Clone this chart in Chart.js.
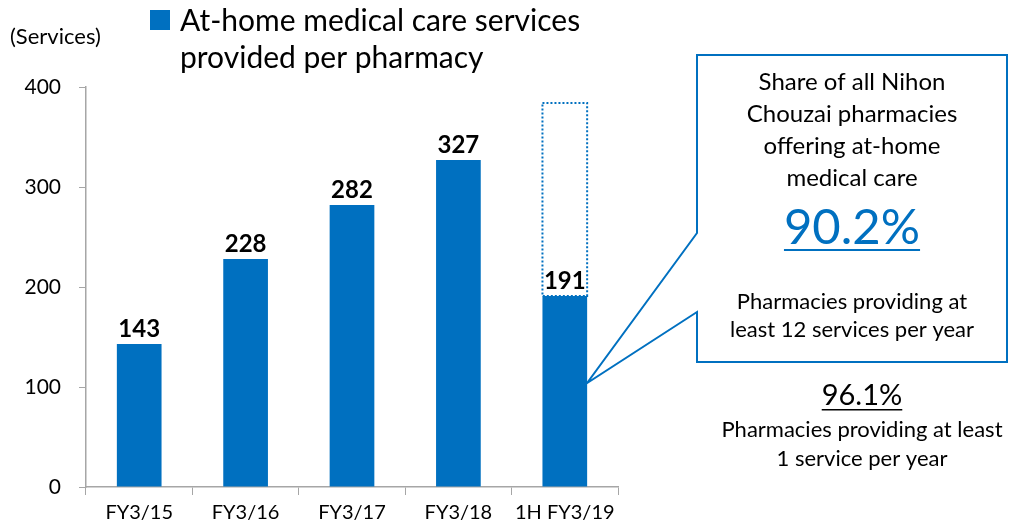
<!DOCTYPE html>
<html>
<head>
<meta charset="utf-8">
<script src="https://cdn.jsdelivr.net/npm/chart.js@4/dist/chart.umd.min.js"></script>
<style>
  html, body { margin: 0; padding: 0; background: #fff; }
  #wrap { width: 1018px; height: 528px; position: relative; }
</style>
</head>
<body>
<div id="wrap"><canvas id="chart" width="1018" height="528"></canvas></div>
<script>
const categories = ['FY3/15', 'FY3/16', 'FY3/17', 'FY3/18', '1H FY3/19'];
const servicesPerPharmacy = [143, 228, 282, 327, 191];
// dotted outline above the half-year bar (full-year outlook)
const outlookRange = [null, null, null, null, [191, 384]];
const yTicks = [0, 100, 200, 300, 400];

const BLUE = '#0070C0';
const AXIS = '#A6A6A6';
const FONT = 'Lato, "Open Sans", sans-serif';

const overlay = {
    id: 'overlay',
    afterDatasetsDraw(chart) {
        const ctx = chart.ctx;
        const bars = chart.getDatasetMeta(0).data;
        const outline = chart.getDatasetMeta(1).data;

        // dotted outline box
        ctx.save();
        outline.forEach((el, i) => {
            if (outlookRange[i] == null) return;
            const p = el.getProps(['x', 'y', 'base', 'width'], true);
            ctx.strokeStyle = BLUE;
            ctx.lineWidth = 2;
            ctx.setLineDash([2, 2]);
            ctx.strokeRect(p.x - p.width / 2, p.y, p.width, p.base - p.y);
        });
        ctx.restore();

        // value labels
        ctx.save();
        ctx.fillStyle = '#000';
        ctx.font = 'bold 24px ' + FONT;
        ctx.textAlign = 'center';
        ctx.textBaseline = 'bottom';
        bars.forEach((el, i) => {
            const p = el.getProps(['x', 'y'], true);
            ctx.fillText(String(servicesPerPharmacy[i]), p.x, p.y - 3);
        });
        ctx.restore();
    },
    afterDraw(chart) {
        const ctx = chart.ctx;
        ctx.save();
        ctx.fillStyle = '#000';

        // unit label
        ctx.font = '22px ' + FONT;
        ctx.textAlign = 'left';
        ctx.textBaseline = 'middle';
        ctx.fillText('(Services)', 10, 37);

        // legend
        ctx.fillStyle = BLUE;
        ctx.fillRect(150, 10, 20, 20);
        ctx.fillStyle = '#000';
        ctx.font = '30px ' + FONT;
        ctx.fillText('At-home medical care services', 180, 21);
        ctx.fillText('provided per pharmacy', 180, 58);

        // callout box with pointer
        const bar = chart.getDatasetMeta(0).data[4].getProps(['x', 'width'], true);
        const tipX = bar.x + bar.width / 2;
        const tipY = chart.scales.y.getPixelForValue(104);
        ctx.strokeStyle = BLUE;
        ctx.lineWidth = 2;
        ctx.beginPath();
        ctx.moveTo(697, 233);
        ctx.lineTo(697, 55);
        ctx.lineTo(1007, 55);
        ctx.lineTo(1007, 362);
        ctx.lineTo(697, 362);
        ctx.lineTo(697, 312);
        ctx.lineTo(tipX, tipY);
        ctx.closePath();
        ctx.fillStyle = '#fff';
        ctx.fill();
        ctx.stroke();

        const cx = 852;
        ctx.fillStyle = '#000';
        ctx.textAlign = 'center';
        ctx.font = '24px ' + FONT;
        ['Share of all Nihon', 'Chouzai pharmacies', 'offering at-home', 'medical care']
            .forEach((t, i) => ctx.fillText(t, cx, 82 + i * 32));

        ctx.fillStyle = BLUE;
        ctx.font = '49px ' + FONT;
        ctx.fillText('90.2%', cx, 228);
        let w = ctx.measureText('90.2%').width;
        ctx.fillRect(cx - w / 2, 249, w, 2);

        ctx.fillStyle = '#000';
        ctx.font = '22px ' + FONT;
        ctx.fillText('Pharmacies providing at', cx, 302);
        ctx.fillText('least 12 services per year', cx, 330);

        const cx2 = 862;
        ctx.font = '29px ' + FONT;
        ctx.fillText('96.1%', cx2, 396);
        w = ctx.measureText('96.1%').width;
        ctx.fillRect(cx2 - w / 2, 409, w, 1.5);
        ctx.font = '22px ' + FONT;
        ctx.fillText('Pharmacies providing at least', cx2, 430);
        ctx.fillText('1 service per year', cx2, 459);
        ctx.restore();
    }
};

new Chart(document.getElementById('chart'), {
    type: 'bar',
    data: {
        labels: categories,
        datasets: [{
            label: 'At-home medical care services provided per pharmacy',
            data: servicesPerPharmacy,
            backgroundColor: BLUE,
            barPercentage: 0.84,
            categoryPercentage: 0.5
        }, {
            label: 'outlook',
            data: outlookRange,
            backgroundColor: 'rgba(0,0,0,0)',
            borderWidth: 0,
            barPercentage: 0.84,
            categoryPercentage: 0.5
        }]
    },
    options: {
        responsive: false,
        animation: false,
        layout: { padding: { left: 0, top: 87, right: 400, bottom: 0 } },
        plugins: { legend: { display: false }, tooltip: { enabled: false } },
        scales: {
            x: {
                stacked: true,
                grid: { drawOnChartArea: false, color: AXIS, tickLength: 8, offset: true },
                border: { color: AXIS, width: 1.5 },
                ticks: { color: '#000', font: { family: FONT, size: 20 }, padding: 6, maxRotation: 0 },
                afterFit: s => { s.height = 41; }
            },
            y: {
                stacked: false,
                min: 0,
                max: 400,
                afterBuildTicks: s => { s.ticks = yTicks.map(v => ({ value: v })); },
                grid: { drawOnChartArea: false, color: AXIS, tickLength: 7 },
                border: { color: AXIS, width: 1.5 },
                ticks: { color: '#000', font: { family: FONT, size: 21 }, padding: 18 },
                afterFit: s => { s.width = 86; }
            }
        }
    },
    plugins: [overlay]
});
</script>
</body>
</html>
